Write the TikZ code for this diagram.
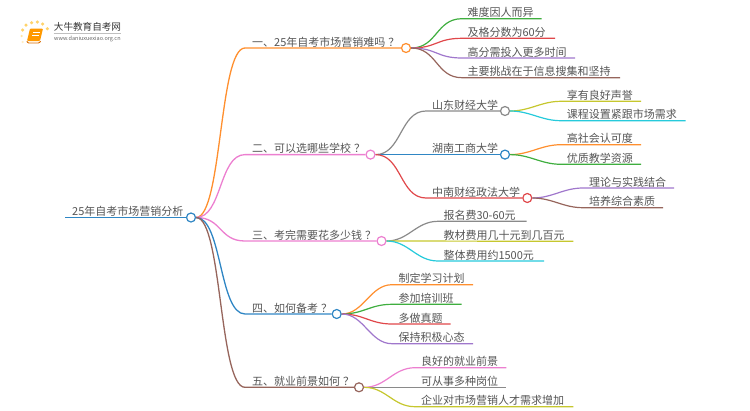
\documentclass[tikz,border=0pt]{standalone}
\usepackage{fontspec}
\setmainfont{Noto Sans CJK SC}
\definecolor{cblue}{HTML}{2F86C4}
\definecolor{corange}{HTML}{FF8F2E}
\definecolor{cgreen}{HTML}{3FAE3F}
\definecolor{cred}{HTML}{E0474A}
\definecolor{cpurple}{HTML}{A077CC}
\definecolor{cbrown}{HTML}{96655C}
\definecolor{cpink}{HTML}{EC7FD0}
\definecolor{cgrey}{HTML}{8A8A8A}
\definecolor{colive}{HTML}{C6C72E}
\definecolor{ccyan}{HTML}{26CADB}
\definecolor{ctext}{HTML}{555555}
\definecolor{cdot}{HTML}{FFD36B}
\tikzset{
  hub/.style={circle,draw,fill=white,line width=1.2pt,minimum size=9pt,inner sep=0pt},
  branch/.style={line width=1.3pt},
  twig/.style={line width=1.2pt},
  dot/.style={circle,fill=cdot,inner sep=0pt,minimum size=3.5pt},
}
\begin{document}
\begin{tikzpicture}[x=1pt,y=-1pt]
        \useasboundingbox (0,0) rectangle (750,410);

        % logo
        \begin{scope}[every node/.style={dot}]
          \node (d1) at (22.7,30) {};
          \node (d2) at (26,25) {};
          \node (d3) at (31.7,22.7) {};
          \node (d4) at (37.3,22) {};
          \node (d5) at (42.7,24) {};
          \node (d6) at (47.3,28.7) {};
          \node[minimum size=2.5pt,opacity=.6] (d7) at (21.7,36) {};
          \node[minimum size=2.5pt,opacity=.4] (d8) at (22.7,42) {};
        \end{scope}
        \fill[orange!80!yellow,rounded corners=1pt] (30,28.5) -- (43,28.5) -- (40,41) -- (27,41) -- cycle;
        \draw[orange!85!black,line width=.9pt,rounded corners=1pt] (27,41) -- (27.5,43) -- (39.5,43) -- (40.5,41);
        \draw[white,line width=.7pt] (33,32) -- (40,32) (32.3,35) -- (39.3,35);
        \node[inner sep=0,anchor=base west,font=\fontsize{9.6}{10}\selectfont,text=black!80] (logoname) at (53.7,30.5) {大牛教育自考网};
        \node[inner sep=0,anchor=base west,font=\fontsize{5.5}{6}\selectfont,text=black!60] (logourl) at (54,40.7) {www.daniuxuexiao.org.cn};
        \draw[black!25,line width=.5pt] (logoname.base west |- 0,33.4) -- (121,33.4);

        % hubs
        \node[hub,draw=cblue] (root) at (191,217.5) {};
        \node[hub,draw=corange] (b1) at (406,48) {};
        \node[hub,draw=cpink] (b2) at (370.5,154.6) {};
        \node[hub,draw=cpink] (b3) at (381.5,241) {};
        \node[hub,draw=cblue] (b4) at (336.7,314) {};
        \node[hub,draw=cbrown] (b5) at (359,387.3) {};
        \node[hub,draw=cgrey] (u1) at (505,111) {};
        \node[hub,draw=cblue] (u2) at (505,154.6) {};
        \node[hub,draw=cred] (u3) at (527.3,198) {};

        % labels
        \begin{scope}[every node/.style={anchor=base west,inner sep=0pt,yshift=-1pt,text=ctext,font=\fontsize{11}{12}\selectfont}]
          \node (rootname) at (72,214.5) {25年自考市场营销分析};

          \node (t1) at (252,45) {一、25年自考市场营销难吗\kern3pt？};
          \node (t2) at (252,151.6) {二、可以选哪些学校\kern3pt？};
          \node (t3) at (252,238) {三、考完需要花多少钱\kern3pt？};
          \node (t4) at (252,311) {四、如何备考\kern3pt？};
          \node (t5) at (252,384.3) {五、就业前景如何\kern3pt？};

          \node (t11) at (467.3,15.7) {难度因人而异};
          \node (t12) at (467.3,35.3) {及格分数为60分};
          \node (t13) at (467.3,55) {高分需投入更多时间};
          \node (t14) at (467.3,74.7) {主要挑战在于信息搜集和坚持};

          \node (n1) at (432,108) {山东财经大学};
          \node (n2) at (432,151.6) {湖南工商大学};
          \node (n3) at (432,195) {中南财经政法大学};

          \node (n11) at (566.7,98.3) {享有良好声誉};
          \node (n12) at (566.7,117.7) {课程设置紧跟市场需求};
          \node (n21) at (566.7,141.7) {高社会认可度};
          \node (n22) at (566.7,161.3) {优质教学资源};
          \node (n31) at (589,185) {理论与实践结合};
          \node (n32) at (589,204.7) {培养综合素质};

          \node (t31) at (443.3,218.3) {报名费30-60元};
          \node (t32) at (443.3,238.3) {教材费用几十元到几百元};
          \node (t33) at (443.3,258) {整体费用约1500元};

          \node (t41) at (398.3,281.7) {制定学习计划};
          \node (t42) at (398.3,301.3) {参加培训班};
          \node (t43) at (398.3,321) {多做真题};
          \node (t44) at (398.3,340.7) {保持积极心态};

          \node (t51) at (421,364.7) {良好的就业前景};
          \node (t52) at (421,384.3) {可从事多种岗位};
          \node (t53) at (421,403.7) {企业对市场营销人才需求增加};
        \end{scope}

        % line ends
        \coordinate (r0) at (65,217.5);
        \coordinate (s1) at (245,48);
        \coordinate (s2) at (245,154.6);
        \coordinate (s3) at (245,241);
        \coordinate (s4) at (245,314);
        \coordinate (s5) at (245,387.3);
        \coordinate (a11) at (462,18.7);   \coordinate (e11) at (541.7,18.7);
        \coordinate (a12) at (462,38.3);   \coordinate (e12) at (555,38.3);
        \coordinate (a13) at (462,58);     \coordinate (e13) at (575,58);
        \coordinate (a14) at (462,77.7);   \coordinate (e14) at (620,77.7);
        \coordinate (c1) at (426,111);
        \coordinate (c2) at (426,154.6);
        \coordinate (c3) at (426,198);
        \coordinate (a21) at (561,101.3);  \coordinate (e21) at (641,101.3);
        \coordinate (a22) at (561,120.7);  \coordinate (e22) at (685.7,120.7);
        \coordinate (a23) at (561,144.7);  \coordinate (e23) at (641,144.7);
        \coordinate (a24) at (561,164.3);  \coordinate (e24) at (641,164.3);
        \coordinate (a25) at (583,188);    \coordinate (e25) at (674,188);
        \coordinate (a26) at (583,207.7);  \coordinate (e26) at (663,207.7);
        \coordinate (a31) at (438,221.3);  \coordinate (e31) at (526.7,221.3);
        \coordinate (a32) at (438,241.3);  \coordinate (e32) at (573.3,241.3);
        \coordinate (a33) at (438,261);    \coordinate (e33) at (544,261);
        \coordinate (a41) at (392,284.7);  \coordinate (e41) at (473,284.7);
        \coordinate (a42) at (392,304.3);  \coordinate (e42) at (461.7,304.3);
        \coordinate (a43) at (392,324);    \coordinate (e43) at (450.7,324);
        \coordinate (a44) at (392,343.7);  \coordinate (e44) at (473,343.7);
        \coordinate (a51) at (415,367.7);  \coordinate (e51) at (506.3,367.7);
        \coordinate (a52) at (415,387.3);  \coordinate (e52) at (506.3,387.3);
        \coordinate (a53) at (415,406.7);  \coordinate (e53) at (573.3,406.7);

        % root and first level
        \draw[cblue,line width=1.5pt] (r0) -- (root.west);
        \draw[branch,corange] (root.east) .. controls +(26,0) and +(-26,0) .. (s1) -- (b1.west);
        \draw[branch,cpink] (root.east) .. controls +(26,0) and +(-26,0) .. (s2) -- (b2.west);
        \draw[branch,cpink] (root.east) .. controls +(26,0) and +(-26,0) .. (s3) -- (b3.west);
        \draw[branch,cblue] (root.east) .. controls +(26,0) and +(-26,0) .. (s4) -- (b4.west);
        \draw[branch,cbrown] (root.east) .. controls +(26,0) and +(-26,0) .. (s5) -- (b5.west);

        % second level
        \begin{scope}[every path/.style={twig}]
          \draw[cgreen] (b1.east) .. controls +(26,0) and +(-26,0) .. (a11) -- (e11);
          \draw[cred] (b1.east) .. controls +(26,0) and +(-26,0) .. (a12) -- (e12);
          \draw[cpurple] (b1.east) .. controls +(26,0) and +(-26,0) .. (a13) -- (e13);
          \draw[cbrown] (b1.east) .. controls +(26,0) and +(-26,0) .. (a14) -- (e14);

          \draw[cgrey] (b2.east) .. controls +(26,0) and +(-26,0) .. (c1) -- (u1.west);
          \draw[cblue] (b2.east) -- (u2.west);
          \draw[cred] (b2.east) .. controls +(26,0) and +(-26,0) .. (c3) -- (u3.west);

          \draw[colive] (u1.east) .. controls +(20,0) and +(-20,0) .. (a21) -- (e21);
          \draw[ccyan] (u1.east) .. controls +(20,0) and +(-20,0) .. (a22) -- (e22);
          \draw[corange] (u2.east) .. controls +(20,0) and +(-20,0) .. (a23) -- (e23);
          \draw[cgreen] (u2.east) .. controls +(20,0) and +(-20,0) .. (a24) -- (e24);
          \draw[cpurple] (u3.east) .. controls +(20,0) and +(-20,0) .. (a25) -- (e25);
          \draw[cbrown] (u3.east) .. controls +(20,0) and +(-20,0) .. (a26) -- (e26);

          \draw[cgrey] (b3.east) .. controls +(22,0) and +(-22,0) .. (a31) -- (e31);
          \draw[colive] (b3.east) -- (e32);
          \draw[ccyan] (b3.east) .. controls +(22,0) and +(-22,0) .. (a33) -- (e33);

          \draw[corange] (b4.east) .. controls +(22,0) and +(-22,0) .. (a41) -- (e41);
          \draw[cgreen] (b4.east) .. controls +(22,0) and +(-22,0) .. (a42) -- (e42);
          \draw[cred] (b4.east) .. controls +(22,0) and +(-22,0) .. (a43) -- (e43);
          \draw[cpurple] (b4.east) .. controls +(22,0) and +(-22,0) .. (a44) -- (e44);

          \draw[cpink] (b5.east) .. controls +(22,0) and +(-22,0) .. (a51) -- (e51);
          \draw[cgrey] (b5.east) -- (e52);
          \draw[colive] (b5.east) .. controls +(22,0) and +(-22,0) .. (a53) -- (e53);
        \end{scope}

\end{tikzpicture}
\end{document}
